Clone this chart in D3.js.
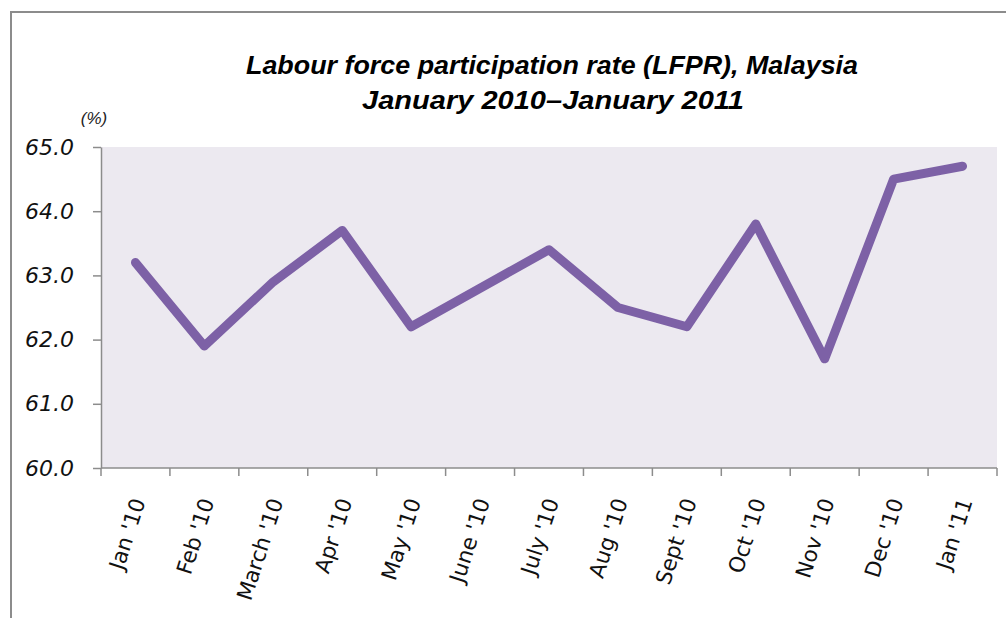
<!DOCTYPE html>
<html>
<head>
<meta charset="utf-8">
<script src="https://d3js.org/d3.v7.min.js"></script>
<style>
  body { margin: 0; background: #fff; }
  text { font-family: "Liberation Sans", Arial, sans-serif; }
</style>
</head>
<body>
<div id="chart"></div>
<script>
// months and LFPR values
var months = ["Jan '10", "Feb '10", "March '10", "Apr '10", "May '10", "June '10",
              "July '10", "Aug '10", "Sept '10", "Oct '10", "Nov '10", "Dec '10", "Jan '11"];
var lfpr = [63.2, 61.9, 62.9, 63.7, 62.2, 62.8, 63.4, 62.5, 62.2, 63.8, 61.7, 64.5, 64.7];
var yTicks = [60, 61, 62, 63, 64, 65];

var W = 1006, H = 618;
var margin = {top: 147, right: 9, bottom: 150, left: 101},
    width = W - margin.left - margin.right,
    height = H - margin.top - margin.bottom;

var svg = d3.select("#chart").append("svg")
    .attr("width", W)
    .attr("height", H);

// outer frame (only top and left edges visible in the crop)
svg.append("path")
    .attr("d", "M11," + H + "V12H" + W)
    .attr("fill", "none")
    .attr("stroke", "#8c8c8c")
    .attr("stroke-width", 2);

// narrow-looking title: squeeze a bigger font into the measured width
svg.append("text")
    .attr("x", 552).attr("y", 74)
    .attr("text-anchor", "middle")
    .attr("textLength", 612).attr("lengthAdjust", "spacingAndGlyphs")
    .style("font-size", "26px").style("font-weight", "bold").style("font-style", "italic")
    .text("Labour force participation rate (LFPR), Malaysia");
svg.append("text")
    .attr("x", 553).attr("y", 109)
    .attr("text-anchor", "middle")
    .attr("textLength", 382).attr("lengthAdjust", "spacingAndGlyphs")
    .style("font-size", "26px").style("font-weight", "bold").style("font-style", "italic")
    .text("January 2010\u2013January 2011");

svg.append("text")
    .attr("x", 94).attr("y", 124)
    .attr("text-anchor", "middle")
    .style("font-size", "17px").style("font-style", "italic").attr("fill", "#222")
    .text("(%)");

var g = svg.append("g")
    .attr("transform", "translate(" + margin.left + "," + margin.top + ")");

var x = d3.scaleBand()
    .domain(months)
    .range([0, width]);

var y = d3.scaleLinear()
    .domain([60, 65])
    .range([height, 0]);

g.append("rect")
    .attr("width", width)
    .attr("height", height)
    .attr("fill", "#ece9f0");

// y axis
var yAxis = g.append("g")
    .call(d3.axisLeft(y).tickValues(yTicks).tickSize(8).tickSizeOuter(0).tickFormat(d3.format(".1f")));
yAxis.selectAll("line, path").attr("stroke", "#8c8c8c").attr("stroke-width", 1.5);
yAxis.selectAll("text")
    .attr("x", -27)
    .style("font-family", "'DejaVu Sans', Verdana, sans-serif")
    .style("font-size", "22px").style("font-style", "italic").attr("fill", "#111");

// x axis with ticks on band boundaries
var xAxis = g.append("g")
    .attr("transform", "translate(0," + height + ")");
xAxis.append("line")
    .attr("x1", 0).attr("x2", width)
    .attr("stroke", "#8c8c8c").attr("stroke-width", 1.5);
xAxis.selectAll(".tick")
    .data(months.concat(["end"]))
    .enter().append("line")
    .attr("class", "tick")
    .attr("x1", function(d, i) { return i * x.step(); })
    .attr("x2", function(d, i) { return i * x.step(); })
    .attr("y1", 0).attr("y2", 8)
    .attr("stroke", "#8c8c8c").attr("stroke-width", 1.5);

xAxis.selectAll(".lbl")
    .data(months)
    .enter().append("text")
    .attr("class", "lbl")
    .attr("transform", function(d) {
        return "translate(" + (x(d) + x.bandwidth() / 2 + 3) + ",31) rotate(-72)";
    })
    .attr("text-anchor", "end")
    .attr("dy", "0.35em")
    .style("font-family", "'DejaVu Sans', Verdana, sans-serif")
    .style("font-size", "21.5px").attr("fill", "#111")
    .text(function(d) { return d; });

var line = d3.line()
    .x(function(d, i) { return x(months[i]) + x.bandwidth() / 2; })
    .y(function(d) { return y(d); });

g.append("path")
    .datum(lfpr)
    .attr("d", line)
    .attr("fill", "none")
    .attr("stroke", "#7d61a6")
    .attr("stroke-width", 9)
    .attr("stroke-linecap", "round")
    .attr("stroke-linejoin", "round");
</script>
</body>
</html>
